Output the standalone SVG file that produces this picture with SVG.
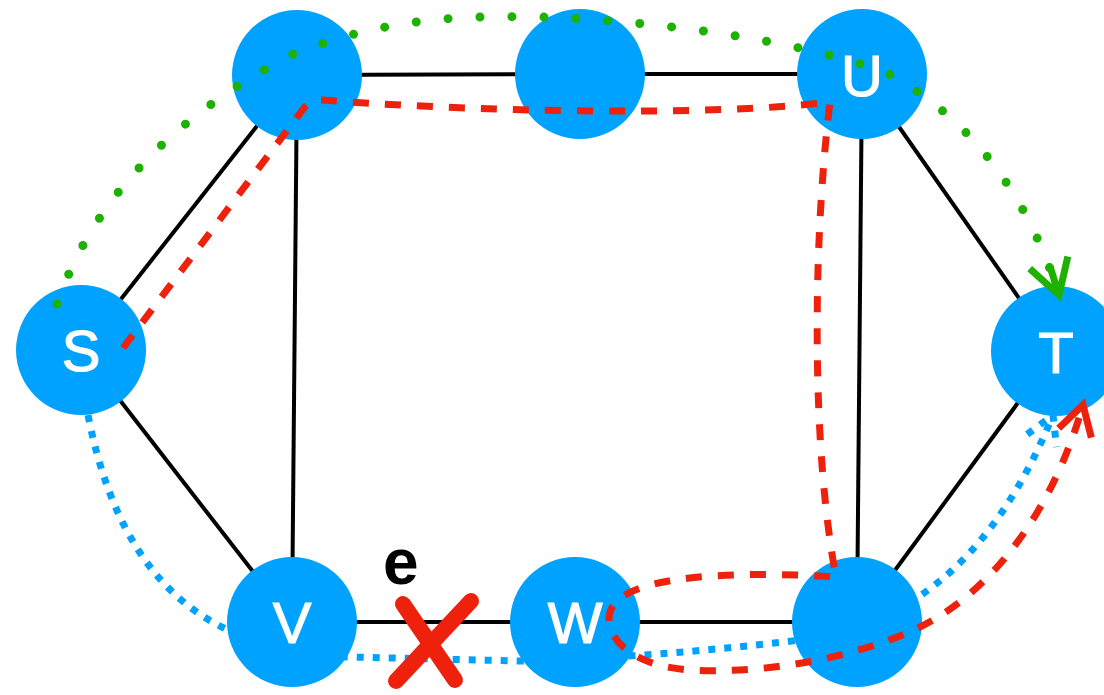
<svg xmlns="http://www.w3.org/2000/svg" width="1104" height="695" viewBox="0 0 1104 695">
  <style>
    .edge { stroke: #000; stroke-width: 4; fill: none; }
    .node circle { fill: #00A2FF; }
    .node text { fill: #fff; stroke: #fff; stroke-width: 1.2; font-family: "Liberation Sans", Arial, sans-serif; font-size: 58px; text-anchor: middle; }
    .red { stroke: #EE220C; stroke-width: 7; fill: none; stroke-dasharray: 16 16; }
    .green { stroke: #1DB100; stroke-width: 9; fill: none; stroke-linecap: round; stroke-dasharray: 0 32; }
    .blue { stroke: #00A2FF; stroke-width: 7; fill: none; stroke-dasharray: 7 9; }
  </style>
  <defs>
    <marker id="head-red" markerUnits="userSpaceOnUse" orient="auto" viewBox="-40 -40 80 80" markerWidth="80" markerHeight="80" refX="0" refY="0" overflow="visible">
      <path d="M -29 -17 L 0 0 L -29 17" fill="none" stroke="#EE220C" stroke-width="7"/>
    </marker>
    <marker id="head-green" markerUnits="userSpaceOnUse" orient="auto" viewBox="-50 -50 100 100" markerWidth="100" markerHeight="100" refX="0" refY="0" overflow="visible">
      <path d="M -34 -20 L 0 0 L -34 20 M -30 0 L 0 0" fill="none" stroke="#1DB100" stroke-width="7"/>
    </marker>
    <marker id="head-blue" markerUnits="userSpaceOnUse" orient="auto" viewBox="-40 -40 80 80" markerWidth="80" markerHeight="80" refX="0" refY="0" overflow="visible">
      <path d="M -28 -16 L 0 0 L -28 16" fill="none" stroke="#00A2FF" stroke-width="7" stroke-dasharray="7 9"/>
    </marker>
  </defs>

  <!-- graph edges -->
  <g id="connectors">
    <g class="edge-lines">
      <line class="edge" x1="81" y1="350" x2="297" y2="75"/>
      <line class="edge" x1="297" y1="75" x2="580" y2="74"/>
      <line class="edge" x1="580" y1="74" x2="862" y2="74"/>
      <line class="edge" x1="862" y1="74" x2="1056" y2="351"/>
      <line class="edge" x1="862" y1="74" x2="857" y2="622"/>
      <line class="edge" x1="297" y1="75" x2="292" y2="622"/>
      <line class="edge" x1="81" y1="350" x2="292" y2="622"/>
      <line class="edge" x1="292" y1="622" x2="575" y2="622"/>
      <line class="edge" x1="575" y1="622" x2="857" y2="622"/>
      <line class="edge" x1="857" y1="622" x2="1056" y2="351"/>
    </g>
    <!-- blue route, passes beneath the nodes -->
    <path id="route-blue" class="blue"
          d="M 88 415 Q 120 580 228 630 Q 260 648 300 655 L 350 657 L 520 661 Q 660 657 800 640 Q 970 620 1053 415"/>
  </g>

  <!-- nodes -->
  <g id="node-s" class="node"><circle cx="81" cy="350" r="65"/><text x="81" y="371">S</text></g>
  <g id="node-a" class="node"><circle cx="297" cy="75" r="65"/></g>
  <g id="node-b" class="node"><circle cx="580" cy="74" r="65"/></g>
  <g id="node-u" class="node"><circle cx="862" cy="74" r="65"/><text x="862" y="96">U</text></g>
  <g id="node-t" class="node"><circle cx="1056" cy="351" r="65"/><text x="1056" y="373">T</text></g>
  <g id="node-v" class="node"><circle cx="292" cy="622" r="65"/><text x="292" y="643">V</text></g>
  <g id="node-w" class="node"><circle cx="575" cy="622" r="65"/><text x="575" y="643">W</text></g>
  <g id="node-c" class="node"><circle cx="857" cy="622" r="65"/></g>

  <!-- routes drawn over the nodes -->
  <g id="routes">
    <!-- head of the blue route sits above node T's rim -->
    <path id="route-blue-head" d="M 1040 445 L 1053 415" fill="none" stroke="none" marker-end="url(#head-blue)"/>
    <path id="route-red" class="red" marker-end="url(#head-red)"
          d="M 123 348 L 304 108 Q 311 100 322 100 C 450 110 700 118 830 102 C 812 250 812 450 836 577 C 760 572 650 572 618 600 C 595 620 615 665 690 670 C 760 674 850 660 918 628 C 985 596 1050 520 1083 405"/>
    <path id="route-green" class="green" marker-end="url(#head-green)"
          d="M 57 304 Q 110 150 291 55 C 380 20 450 15 540 17 C 650 20 800 40 887 73 Q 1010 140 1059 295"/>
  </g>

  <!-- removed edge e -->
  <g id="cut-mark">
    <path d="M 403 604 L 455 680 M 471 601 L 396 681" stroke="#EE220C" stroke-width="16" stroke-linecap="round" fill="none"/>
    <text x="383" y="584" font-family="Liberation Sans, Arial, sans-serif" font-weight="bold" font-size="64" fill="#000">e</text>
  </g>
</svg>
